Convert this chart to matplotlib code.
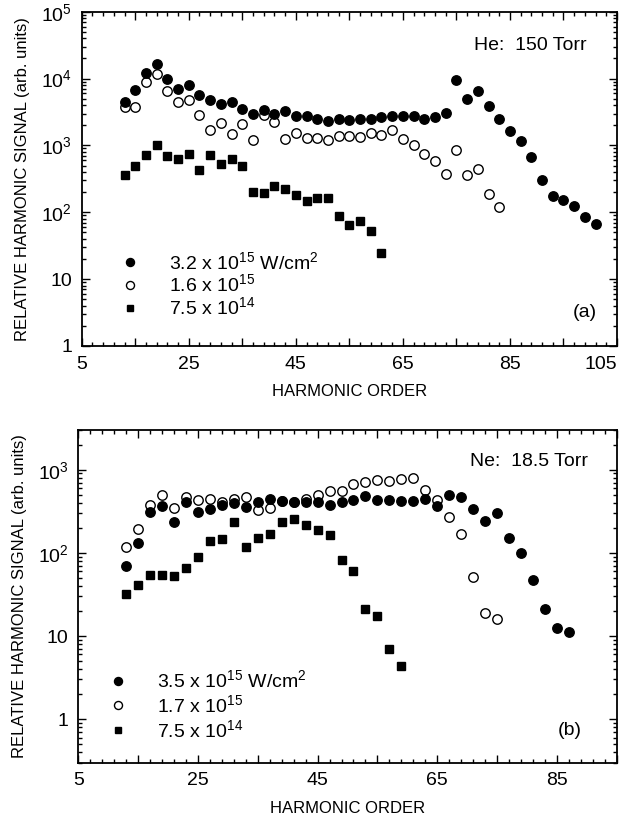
import numpy as np
import matplotlib
matplotlib.use('Agg')
import matplotlib.pyplot as plt
from matplotlib.ticker import MultipleLocator, FuncFormatter, LogLocator, NullFormatter

plt.rcParams['font.family'] = 'Liberation Sans'
plt.rcParams['mathtext.fontset'] = 'custom'
plt.rcParams['mathtext.rm'] = 'Liberation Sans'
plt.rcParams['mathtext.default'] = 'regular'

# ---- panel (a): He, 150 Torr ----
harm_a_32 = list(range(13, 102, 2))
he_32 = [4470, 6700, 12200, 16400, 9700, 6860, 7940, 5640, 4740, 4130, 4430, 3520,
         2920, 3440, 2920, 3280, 2760, 2730, 2490, 2320, 2520, 2440,
         2510, 2510, 2670, 2760, 2760, 2760, 2510, 2670, 3060,
         9460, 4910, 6550, 3860, 2510, 1630, 1160, 670, 309, 173, 150, 124, 85, 66]
harm_a_16 = list(range(13, 84, 2))
he_16 = [3770, 3770, 8940, 11650, 6470, 4480, 4850, 2830, 1720, 2170, 1500, 2070,
         1220, 2830, 2240, 1260, 1540, 1290, 1290, 1190, 1370, 1370,
         1340, 1540, 1420, 1680, 1260, 1030, 736, 584, 378, 865, 357, 439, 185, 119]
harm_a_75 = list(range(13, 62, 2))
he_75 = [365, 486, 728, 1030, 687, 634, 736, 434, 711, 521, 619, 486,
         200, 193, 244, 225, 183, 145, 165, 165, 86.5, 64.8, 73.6, 52.1, 24.7]
labels_a = [r'3.2 x 10$^{15}$ W/cm$^{2}$', r'1.6 x 10$^{15}$', r'7.5 x 10$^{14}$']

# ---- panel (b): Ne, 18.5 Torr ----
harm_b_35 = list(range(13, 88, 2))
ne_35 = [68.7, 131, 306, 369, 232, 404, 306, 336, 371, 397, 356, 404, 447, 415,
         404, 404, 404, 379, 408, 435, 477, 435, 427, 415, 415, 443, 369, 500,
         469, 336, 239, 301, 151, 99.5, 47.5, 21.1, 12.5, 11.1]
harm_b_17 = list(range(13, 76, 2))
ne_17 = [116, 194, 371, 500, 346, 469, 427, 443, 404, 443, 463, 330, 346, 415,
         404, 443, 500, 558, 558, 678, 710, 757, 736, 771, 793, 574, 435, 267,
         170, 51.3, 18.9, 16.1]
harm_b_75 = list(range(13, 60, 2))
ne_75 = [32.3, 41.4, 54.6, 54.6, 53.1, 65.7, 88.2, 137, 147, 235, 119, 151, 168,
         232, 255, 218, 190, 162, 81, 61, 21.1, 17.2, 7.05, 4.31]
labels_b = [r'3.5 x 10$^{15}$ W/cm$^{2}$', r'1.7 x 10$^{15}$', r'7.5 x 10$^{14}$']


def log_label(v, pos):
    e = int(round(np.log10(v)))
    if e == 0:
        return '1'
    if e == 1:
        return '10'
    return r'10$^{%d}$' % e


def style_axes(ax, xlim, ylim):
    ax.set_yscale('log')
    ax.set_xlim(*xlim)
    ax.set_ylim(*ylim)
    ax.xaxis.set_major_locator(MultipleLocator(10, offset=5))
    ax.xaxis.set_minor_locator(MultipleLocator(2, offset=1))
    ax.xaxis.set_major_formatter(FuncFormatter(
        lambda v, p: '%d' % round(v) if (round(v) - 5) % 20 == 0 else ''))
    ax.yaxis.set_major_locator(LogLocator(base=10))
    ax.yaxis.set_minor_locator(LogLocator(base=10, subs=np.arange(2, 10)))
    ax.yaxis.set_major_formatter(FuncFormatter(log_label))
    ax.yaxis.set_minor_formatter(NullFormatter())
    ax.tick_params(which='both', direction='in', top=True, right=True,
                   width=1.0, labelsize=14)
    ax.tick_params(which='major', length=6, pad=7)
    ax.tick_params(which='minor', length=3)
    for s in ax.spines.values():
        s.set_linewidth(1.3)
    ax.set_xlabel('HARMONIC ORDER', fontsize=12, labelpad=8)
    ax.set_ylabel('RELATIVE HARMONIC SIGNAL (arb. units)', fontsize=12, labelpad=8)


def draw_series(ax, x1, y1, x2, y2, x3, y3, labels):
    h2, = ax.plot(x2, y2, 'o', ms=6.8, mfc='white', mec='black', mew=1.0,
                  ls='none', label=labels[1], zorder=2)
    h1, = ax.plot(x1, y1, 'o', ms=6.8, color='black', ls='none',
                  label=labels[0], zorder=3)
    h3, = ax.plot(x3, y3, 's', ms=5.6, color='black', ls='none',
                  label=labels[2], zorder=3)
    return [h1, h2, h3]


fig = plt.figure(figsize=(6.21, 8.17), dpi=100)

ax1 = fig.add_axes([0.1316, 0.5765, 0.862, 0.4092])
style_axes(ax1, (5, 105), (1, 1e5))
hs = draw_series(ax1, harm_a_32, he_32, harm_a_16, he_16, harm_a_75, he_75, labels_a)
ax1.legend(hs, labels_a, loc='upper left', bbox_to_anchor=(0.072, 0.285),
           frameon=False, fontsize=14, handlelength=1.0, handletextpad=1.5,
           labelspacing=0.05, borderpad=0, borderaxespad=0, markerscale=0.85)
ax1.text(0.944, 0.90, 'He:  150 Torr', transform=ax1.transAxes, ha='right',
         va='center', fontsize=14)
ax1.text(0.963, 0.10, '(a)', transform=ax1.transAxes, ha='right',
         va='center', fontsize=14)

ax2 = fig.add_axes([0.1261, 0.0665, 0.867, 0.4072])
style_axes(ax2, (5, 95), (0.3, 3000))
hs = draw_series(ax2, harm_b_35, ne_35, harm_b_17, ne_17, harm_b_75, ne_75, labels_b)
ax2.legend(hs, labels_b, loc='upper left', bbox_to_anchor=(0.056, 0.28),
           frameon=False, fontsize=14, handlelength=1.0, handletextpad=1.5,
           labelspacing=0.15, borderpad=0, borderaxespad=0, markerscale=0.85)
ax2.text(0.947, 0.904, 'Ne:  18.5 Torr', transform=ax2.transAxes, ha='right',
         va='center', fontsize=14)
ax2.text(0.935, 0.098, '(b)', transform=ax2.transAxes, ha='right',
         va='center', fontsize=14)

# the "105" label sits flush with the right edge of the page
fig.canvas.draw()
for t in ax1.get_xticklabels():
    if t.get_text() == '105':
        t.set_horizontalalignment('right')

plt.savefig('out.png', dpi=100)
plt.close()
